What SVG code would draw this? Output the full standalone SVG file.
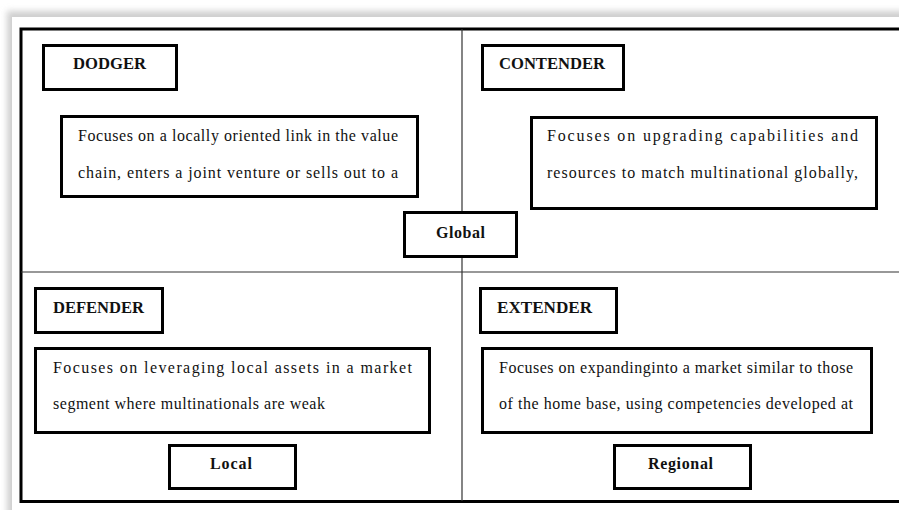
<svg xmlns="http://www.w3.org/2000/svg" width="899" height="510" viewBox="0 0 899 510">
<defs>
<filter id="sh" x="-5%" y="-5%" width="110%" height="110%"><feGaussianBlur stdDeviation="3"/></filter>
</defs>
<style>
.box{fill:#fff;stroke:#000;stroke-width:3}
.hd{font-family:"Liberation Serif","Times New Roman",serif;font-weight:bold;font-size:16px;fill:#111}
.tx{font-family:"Liberation Serif","Times New Roman",serif;font-size:16px;fill:#111}
.div{stroke:#333;stroke-width:1.2}
</style>
<rect width="899" height="510" fill="#fff"/>
<rect x="7" y="11" width="910" height="520" fill="#cfcfcf" filter="url(#sh)"/>
<rect x="12" y="17" width="900" height="500" fill="#fff"/>
<g id="frame">
<rect x="21" y="29" width="890" height="472.5" fill="none" stroke="#000" stroke-width="3"/>
</g>
<g id="connectors">
<line class="div" x1="462" y1="29" x2="462" y2="501"/>
<line class="div" x1="21" y1="272" x2="899" y2="272"/>
</g>
<g id="dodger">
<rect class="box" x="43.5" y="45.5" width="133" height="44"/>
<text class="hd" x="73" y="69" textLength="73" lengthAdjust="spacingAndGlyphs">DODGER</text>
</g>
<g id="dodger-desc">
<rect class="box" x="61.5" y="116.5" width="356" height="80"/>
<text class="tx" x="78" y="141" textLength="320" lengthAdjust="spacing">Focuses on a locally oriented link in the value</text>
<text class="tx" x="78" y="178" textLength="320" lengthAdjust="spacing">chain, enters a joint venture or sells out to a</text>
</g>
<g id="contender">
<rect class="box" x="482.5" y="45.5" width="141" height="44"/>
<text class="hd" x="499" y="69" textLength="106" lengthAdjust="spacingAndGlyphs">CONTENDER</text>
</g>
<g id="contender-desc">
<rect class="box" x="531.5" y="117.5" width="345" height="91"/>
<text class="tx" x="547" y="141" textLength="311" lengthAdjust="spacing">Focuses on upgrading capabilities and</text>
<text class="tx" x="547" y="178" textLength="311" lengthAdjust="spacing">resources to match multinational globally,</text>
</g>
<g id="global">
<rect class="box" x="404.5" y="212.5" width="112" height="44"/>
<text class="hd" x="436" y="238" textLength="49" lengthAdjust="spacing">Global</text>
</g>
<g id="defender">
<rect class="box" x="35.5" y="288.5" width="127" height="44"/>
<text class="hd" x="53" y="313" textLength="91" lengthAdjust="spacingAndGlyphs">DEFENDER</text>
</g>
<g id="defender-desc">
<rect class="box" x="35.5" y="348.5" width="394" height="84"/>
<text class="tx" x="53" y="373" textLength="359" lengthAdjust="spacing">Focuses on leveraging local assets in a market</text>
<text class="tx" x="53" y="409" textLength="272" lengthAdjust="spacing">segment where multinationals are weak</text>
</g>
<g id="local">
<rect class="box" x="169.5" y="445.5" width="126" height="43"/>
<text class="hd" x="210" y="469" textLength="42" lengthAdjust="spacing">Local</text>
</g>
<g id="extender">
<rect class="box" x="480.5" y="288.5" width="136" height="44"/>
<text class="hd" x="497" y="313" textLength="95" lengthAdjust="spacingAndGlyphs">EXTENDER</text>
</g>
<g id="extender-desc">
<rect class="box" x="482.5" y="348.5" width="389" height="84"/>
<text class="tx" x="499" y="373" textLength="354" lengthAdjust="spacing">Focuses on expandinginto a market similar to those</text>
<text class="tx" x="499" y="409" textLength="354" lengthAdjust="spacing">of the home base, using competencies developed at</text>
</g>
<g id="regional">
<rect class="box" x="614.5" y="445.5" width="136" height="43"/>
<text class="hd" x="648" y="469" textLength="65" lengthAdjust="spacing">Regional</text>
</g>
</svg>
